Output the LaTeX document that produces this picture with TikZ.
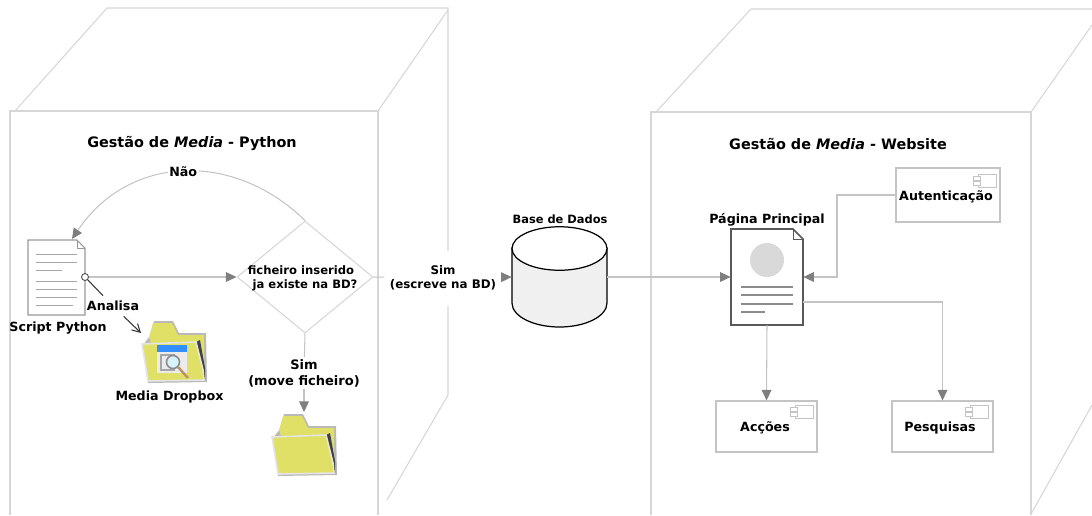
\documentclass[tikz,border=0pt]{standalone}
\usepackage{fontspec}
\setmainfont{DejaVu Sans}
\usetikzlibrary{arrows.meta, shapes.geometric}

\definecolor{cubegray}{HTML}{D6D6D6}
\definecolor{linegray}{HTML}{C4C4C4}
\definecolor{tipgray}{HTML}{7F7F7F}
\definecolor{foldyellow}{HTML}{E0E066}

\tikzset{
	cube/.style={draw=cubegray, line width=0.6pt},
	flow/.style={draw=linegray, line width=0.6pt},
	flowtip/.style={flow, -{Triangle[length=6pt, width=5.5pt, color=tipgray]}},
	tag/.style={font=\bfseries\fontsize{7.2}{9.2}\selectfont, align=center, inner sep=0pt},
	title/.style={font=\bfseries\fontsize{8.2}{10}\selectfont, inner sep=0pt},
	component/.style={draw=linegray, line width=0.6pt, rectangle},
	folder/.pic={
		\fill[gray!55] (1,25) -- (8,16) -- (12,1) -- (31,1) -- (37,13) -- (64,13) -- (65,62) -- (6,63) -- cycle;
		\fill[foldyellow] (7,17) -- (11,3) -- (30,3) -- (36,15) -- (62,15) -- (62,60) -- (20,60) -- cycle;
		\fill[black!75] (54,22) -- (58,20) -- (63,48) -- (63,60) -- cycle;
		\draw[draw=white!80!gray, fill=foldyellow, line width=0.9pt] (0,24) -- (54,22) -- (61,50) -- (62,60) -- (6,61) -- cycle;
	}
}

\newcommand{\compicon}[2]{
	\draw[linegray, line width=0.5pt, fill=white] (#1,#2) rectangle ++(18,13);
	\draw[linegray, line width=0.5pt, fill=white] (#1-5,#2+2) rectangle ++(7,4);
	\draw[linegray, line width=0.5pt, fill=white] (#1-5,#2+7) rectangle ++(7,4);
}

\begin{document}
\begin{tikzpicture}[x=0.02cm, y=-0.02cm]
	\useasboundingbox (0, 0) rectangle (1092, 515);

	% left cube
	\draw[cube] (10, 515) -- (10, 111) -- (378, 111) -- (378, 515);
	\draw[cube] (15, 111) -- (107, 8) -- (448, 8) -- (448, 395) -- (387, 500);
	\draw[cube] (378, 111) -- (448, 10);
	\node[title] (titlepython) at (192, 143) {Gestão de \textit{Media} - Python};

	% right cube
	\draw[cube] (651, 515) -- (651, 112) -- (1031, 112) -- (1031, 515);
	\draw[cube] (656, 112) -- (751, 9) -- (1092, 9);
	\draw[cube] (1031, 112) -- (1092, 25);
	\draw[cube] (1031, 514) -- (1092, 405);
	\node[title] (titleweb) at (838, 144) {Gestão de \textit{Media} - Website};

	% script page
	\node[minimum width=1.14cm, minimum height=1.5cm, inner sep=0pt] (script) at (56.5, 277.5) {};
	\draw[draw=gray!80, fill=white, line width=0.6pt] (28, 240) -- ++(49, 0) -- ++(8, 8) -- (85, 315) -- (28, 315) -- cycle;
	\draw[draw=gray!80, line width=0.5pt] (77, 240) -- (77, 248) -- (85, 248);
	\foreach \y/\xend in {254/77, 262/77, 270/62, 281/77, 289/77, 297/77, 305/73}
		\draw[gray!70, line width=0.5pt] (36, \y) -- (\xend, \y);
	\node[tag] (scriptlabel) at (58, 328) {Script Python};

	% nodes
	\node[draw=black!70, circle, fill=white, minimum size=0.14cm, inner sep=0pt, line width=0.5pt] (lens) at (85, 277) {};
	\node[diamond, draw=cubegray, line width=0.6pt, minimum width=2.72cm, minimum height=2.24cm, inner sep=0pt] (check) at (305, 277) {};
	\node[tag, font=\bfseries\fontsize{6.6}{8}\selectfont] (checktext) at (301, 278) {ficheiro inserido\\\ \ ja existe na BD?};
	\node[minimum width=1.9cm, minimum height=2cm, inner sep=0pt] (db) at (559.5, 277) {};
	\node[minimum width=1.44cm, minimum height=1.92cm, inner sep=0pt] (page) at (767, 277) {};
	\node[component, minimum width=2.08cm, minimum height=1.08cm, inner sep=0pt] (auth) at (948, 195) {};
	\node[component, minimum width=2.02cm, minimum height=1.02cm, inner sep=0pt] (accoes) at (766.5, 426.5) {};
	\node[component, minimum width=2.02cm, minimum height=1.02cm, inner sep=0pt] (pesquisas) at (942.5, 426.5) {};
	\coordinate (dropbox) at (141, 333);
	\coordinate (movedir) at (304, 412);
	\coordinate (authcorner) at (837, 277);
	\coordinate (pageout) at (803, 302);

	% database
	\draw[black, fill=black!6, line width=0.7pt] (512, 248) -- (512, 303) arc[start angle=180, end angle=360, x radius=0.95cm, y radius=0.48cm] -- (607, 248) -- cycle;
	\draw[black, fill=white, line width=0.7pt] (559.5, 248.5) ellipse (0.95cm and 0.435cm);
	\node[tag, font=\bfseries\fontsize{6.5}{8}\selectfont] (dblabel) at (560, 219) {Base de Dados};

	% main page
	\draw[draw=black!65, fill=white, line width=0.9pt] (731, 229) -- ++(62, 0) -- ++(10, 10) -- (803, 325) -- (731, 325) -- cycle;
	\draw[draw=black!65, line width=0.5pt] (793, 229) -- (793, 239) -- (803, 239);
	\fill[black!15] (767, 260) circle (0.34cm);
	\foreach \y/\xend in {287/793, 295/793, 304/793, 312/765}
		\draw[gray!90, line width=0.6pt] (741, \y) -- (\xend, \y);
	\node[tag] (pagelabel) at (767, 220) {Página Principal};

	% folders
	\pic at (142, 320) {folder};
	\fill[blue!55!cyan!80] (157, 345) rectangle (187, 352);
	\fill[black!8] (157, 352) rectangle (187, 373);
	\draw[gray!70, line width=0.6pt] (161, 355) rectangle (174, 370);
	\draw[gray!90, fill=cyan!15, line width=0.9pt] (173, 362) circle (0.13cm);
	\draw[black!45!orange!60, line width=1.4pt] (178, 367) -- (188, 378);
	\node[tag] (dropboxlabel) at (169.5, 397) {Media Dropbox};
	\pic at (272, 413) {folder};

	% connectors
	\draw[flowtip] (lens.east) -- (check.west);
	\draw[flowtip] (check.north) .. controls (234, 151) and (129, 154) .. node[midway, tag, fill=white, inner xsep=1pt] (nao) {Não} (72, 239);
	\node[tag, minimum height=0.4cm] (analisa) at (113, 306) {Analisa};
	\draw[black!80, line width=0.6pt] (lens) -- (analisa);
	\draw[black!80, line width=0.6pt, -{Straight Barb[length=4.5pt, width=5pt]}] (analisa) -- (dropbox);
	\node[tag, fill=white, minimum height=1.1cm, inner xsep=3pt, font=\bfseries\fontsize{6.75}{8.2}\selectfont] (simdb) at (443, 278) {Sim\\(escreve na BD)};
	\draw[flow] (check.east) -- (simdb);
	\draw[flowtip] (simdb) -- (db.west);
	\node[tag, fill=white, inner ysep=1pt, font=\bfseries\fontsize{7.4}{9.2}\selectfont] (simmove) at (304, 373) {Sim\\(move ficheiro)};
	\draw[flow] (check.south) -- (simmove);
	\draw[flowtip] (simmove) -- (movedir);
	\draw[flowtip] (db.east) -- (page.west);
	\draw[flowtip] (auth.west) -| (authcorner) -- (page.east);
	\draw[flowtip] (page.south) -- (accoes.north);
	\draw[flowtip] (pageout) -| (pesquisas.north);

	% components
	\compicon{978}{174}
	\compicon{795}{405}
	\compicon{970}{405}
	\node[tag] (authlabel) at (946, 197) {Autenticação};
	\node[tag] (accoeslabel) at (765, 428) {Acções};
	\node[tag] (pesquisaslabel) at (940, 428) {Pesquisas};
\end{tikzpicture}
\end{document}
